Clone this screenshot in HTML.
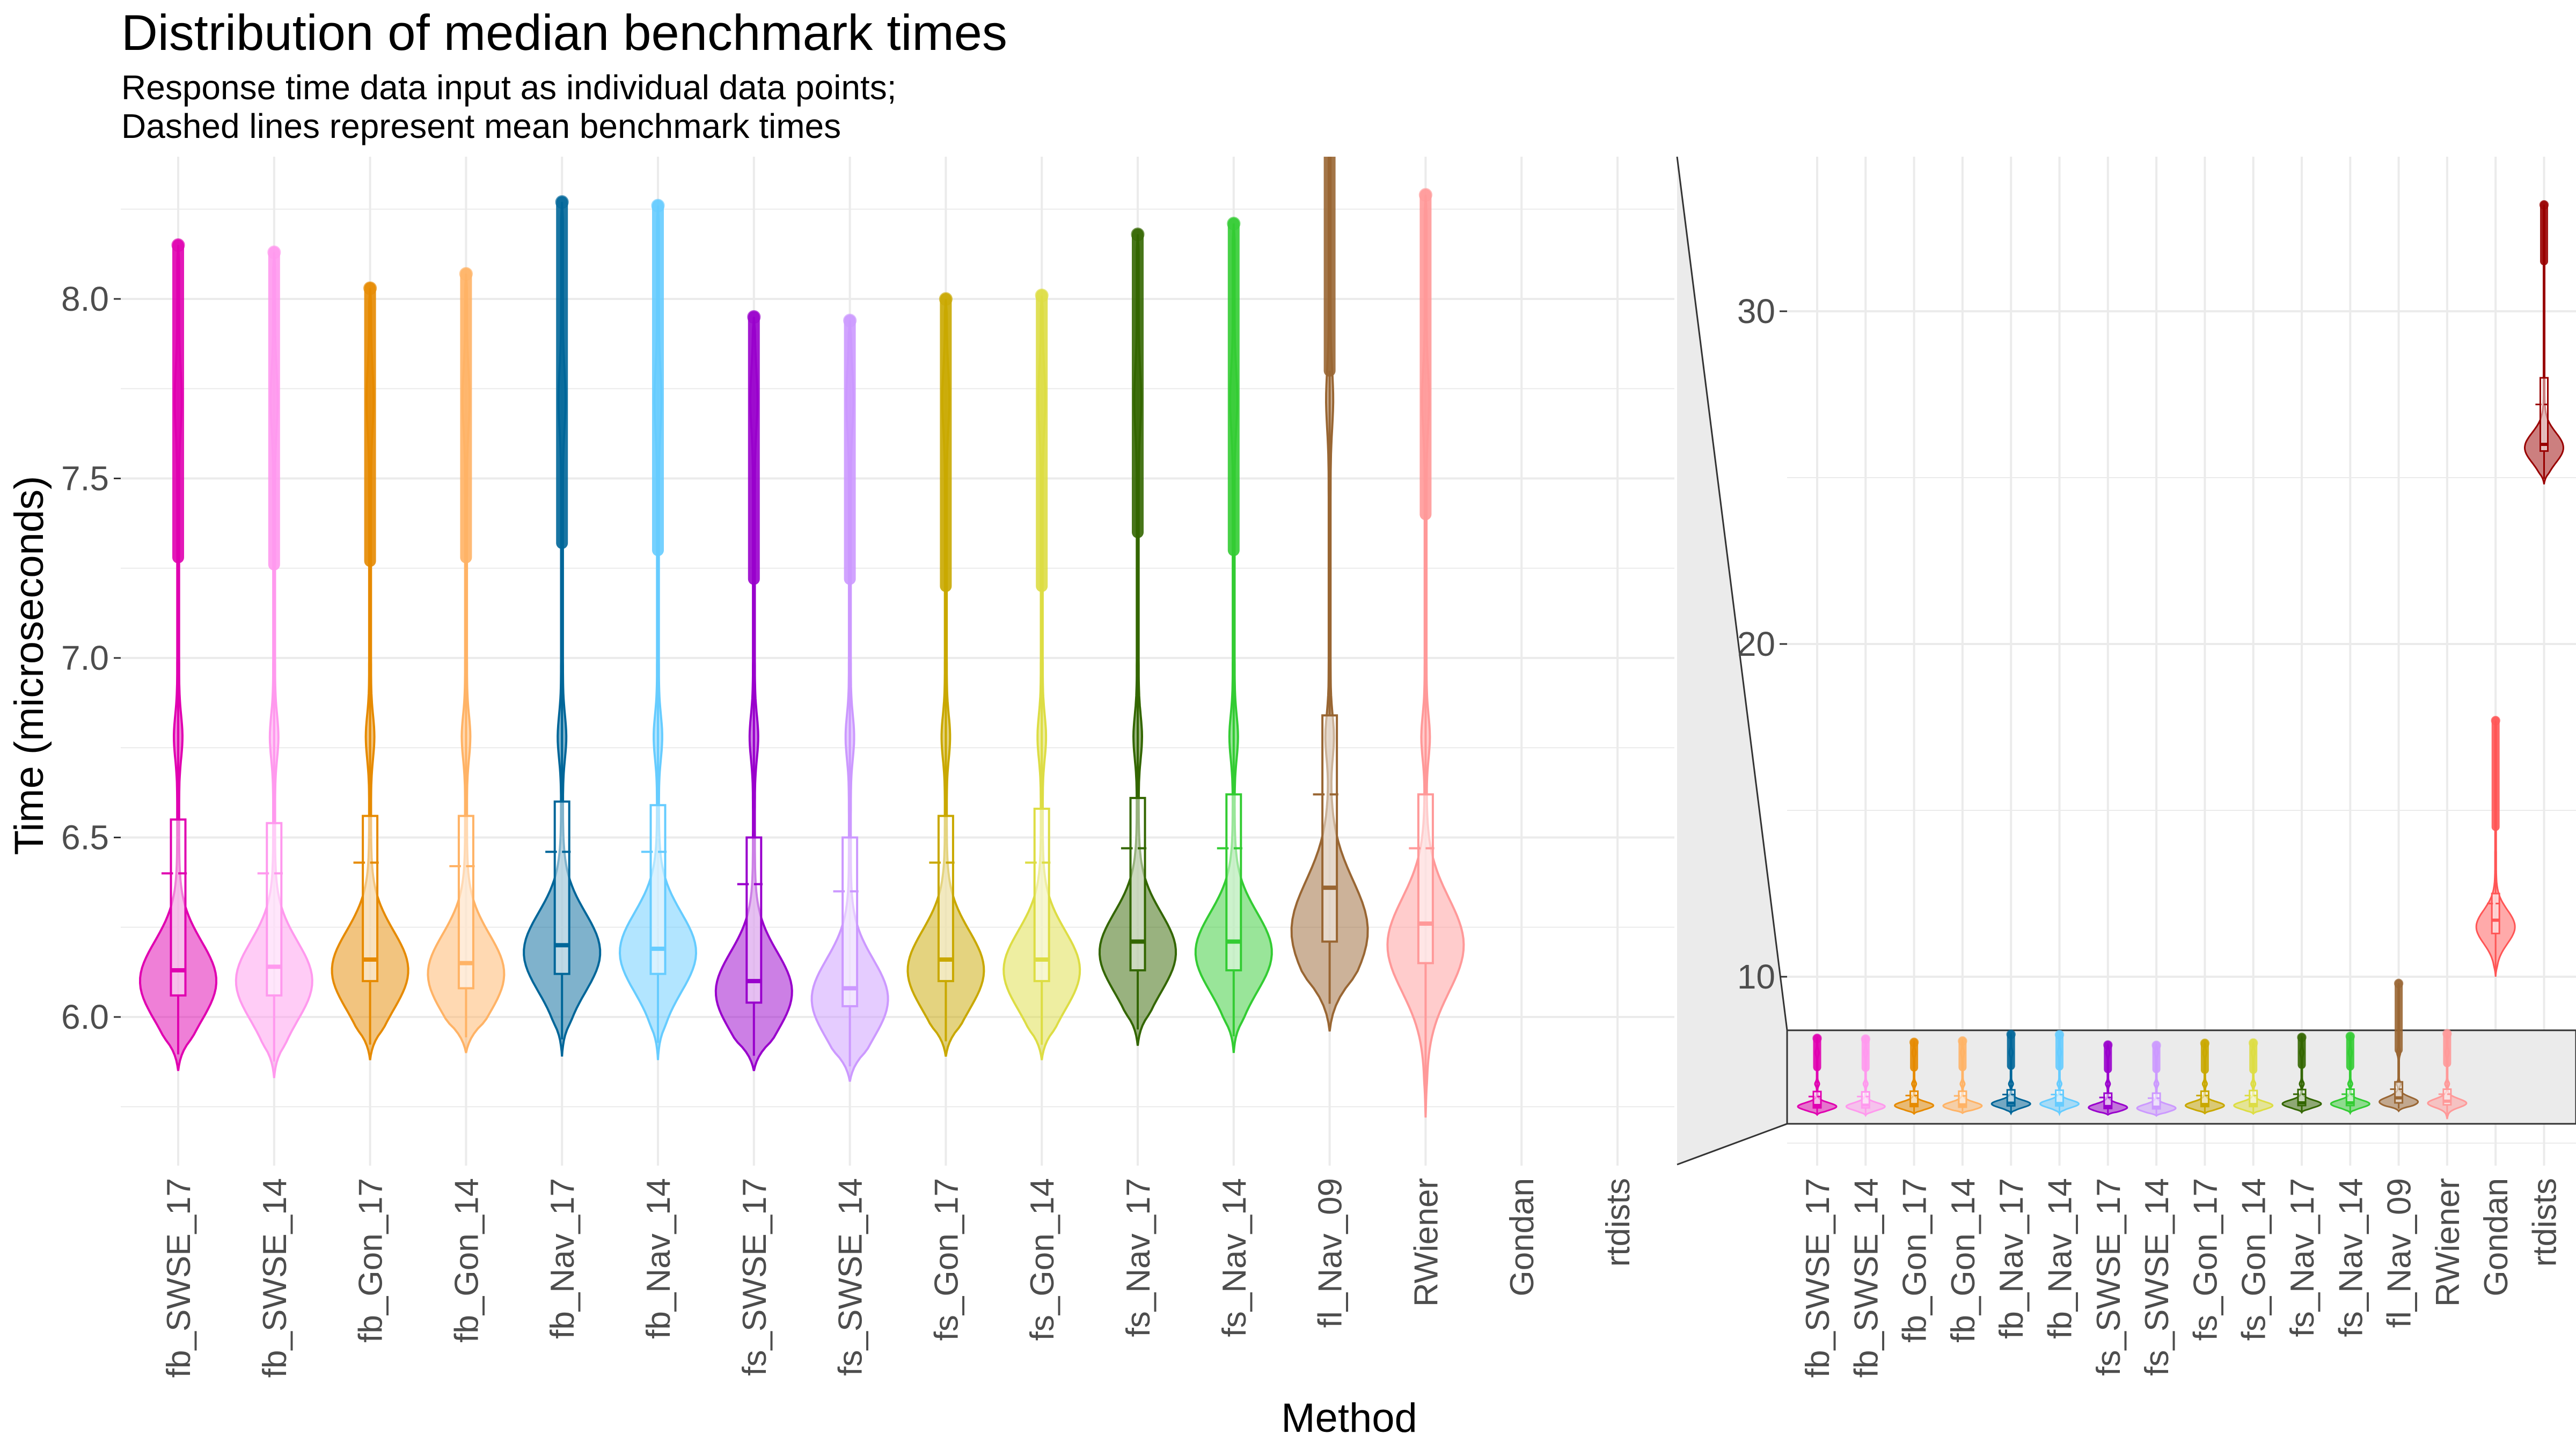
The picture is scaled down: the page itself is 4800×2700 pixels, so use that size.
<!DOCTYPE html>
<html><head><meta charset="utf-8">
<style>
html,body{margin:0;padding:0;background:#fff;}
svg{display:block;font-family:"Liberation Sans",sans-serif;}
</style></head>
<body>
<svg id="chart" width="4800" height="2700" viewBox="0 0 4800 2700" xmlns="http://www.w3.org/2000/svg">
<text x="226" y="93" font-size="94" fill="#000">Distribution of median benchmark times</text>
<text x="226" y="185" font-size="64" fill="#000">Response time data input as individual data points;</text>
<text x="226" y="257" font-size="64" fill="#000">Dashed lines represent mean benchmark times</text>
<text transform="translate(80,1240) rotate(-90)" text-anchor="middle" font-size="76" fill="#000">Time (microseconds)</text>
<text x="2514" y="2668" text-anchor="middle" font-size="76" fill="#000">Method</text>
<defs>
<clipPath id="clipL"><rect x="225" y="292" width="2895" height="1880"/></clipPath>
<clipPath id="clipR"><rect x="3330" y="292" width="1470" height="1880"/></clipPath>
</defs>
<g id="left"></g>
<g id="right"></g>
</svg>
<script>
const categories=["fb_SWSE_17","fb_SWSE_14","fb_Gon_17","fb_Gon_14","fb_Nav_17","fb_Nav_14","fs_SWSE_17","fs_SWSE_14","fs_Gon_17","fs_Gon_14","fs_Nav_17","fs_Nav_14","fl_Nav_09","RWiener","Gondan","rtdists"];
const colors=["#E000B0","#FF99EE","#E68A00","#FFB366","#006699","#66CCFF","#9900CC","#CC99FF","#C9A800","#DDDD44","#336600","#33CC33","#996633","#FF9999","#FF5555","#990000"];
const minVals=[5.85,5.83,5.88,5.90,5.89,5.88,5.85,5.82,5.89,5.88,5.92,5.90,5.96,5.72,10.0,24.8];
const q1Vals=[6.06,6.06,6.10,6.08,6.12,6.12,6.04,6.03,6.10,6.10,6.13,6.13,6.21,6.15,11.3,25.8];
const medianVals=[6.13,6.14,6.16,6.15,6.20,6.19,6.10,6.08,6.16,6.16,6.21,6.21,6.36,6.26,11.7,26.0];
const q3Vals=[6.55,6.54,6.56,6.56,6.60,6.59,6.50,6.50,6.56,6.58,6.61,6.62,6.84,6.62,12.5,28.0];
const meanVals=[6.40,6.40,6.43,6.42,6.46,6.46,6.37,6.35,6.43,6.43,6.47,6.47,6.62,6.47,12.2,27.2];
const outStartVals=[7.28,7.26,7.27,7.28,7.32,7.30,7.22,7.22,7.20,7.20,7.35,7.30,7.80,7.40,14.5,31.5];
const maxVals=[8.15,8.13,8.03,8.07,8.27,8.26,7.95,7.94,8.00,8.01,8.18,8.21,9.80,8.29,17.7,33.2];
const modeVals=[6.10,6.10,6.13,6.12,6.18,6.18,6.07,6.05,6.13,6.13,6.18,6.18,6.24,6.20,11.5,25.9];
const spreadVals=[0.11,0.11,0.11,0.11,0.11,0.11,0.11,0.11,0.11,0.11,0.11,0.11,0.14,0.13,0.5,0.45];
const leftTicks=[6.0,6.5,7.0,7.5,8.0];
const leftMinor=[5.75,6.25,6.75,7.25,7.75,8.25];
const rightTicks=[10,20,30];
const rightMinor=[5,15,25];

const NS="http://www.w3.org/2000/svg";
function mk(tag,attrs,parent){const e=document.createElementNS(NS,tag);for(const k in attrs)e.setAttribute(k,attrs[k]);parent.appendChild(e);return e;}
const L=document.getElementById('left'), R=document.getElementById('right');
const yL=v=>1895-(v-6)*669;
const xL=i=>332+i*178.8;
const yR=v=>1820-(v-10)*62;
const xR=i=>3386+i*90.3;

leftMinor.forEach(v=>{const l=mk('line',{x1:225,x2:3120,y1:yL(v),y2:yL(v),stroke:'#ebebeb','stroke-width':2},L);
});
leftTicks.forEach(v=>{const l=mk('line',{x1:225,x2:3120,y1:yL(v),y2:yL(v),stroke:'#ebebeb','stroke-width':4},L);

const t=mk('line',{x1:212,x2:225,y1:yL(v),y2:yL(v),stroke:'#333','stroke-width':3},L);

const tx=mk('text',{x:203,y:yL(v)+22,'text-anchor':'end','font-size':64,fill:'#4d4d4d'},L);tx.textContent=v.toFixed(1);
});
categories.forEach((c,i)=>{const l=mk('line',{x1:xL(i),x2:xL(i),y1:292,y2:2172,stroke:'#ebebeb','stroke-width':4},L);

const t=mk('text',{transform:`translate(${xL(i)+22},2195) rotate(-90)`,'text-anchor':'end','font-size':62,fill:'#4d4d4d'},L);t.textContent=c;
});

const bandTop=yR(8.39), bandBot=yR(5.58);
const conn=mk('polygon',{points:`3125,292 3330,${bandTop} 3330,${bandBot} 3125,2170`,fill:'#ebebeb',stroke:'none'},R);

mk('line',{x1:3125,y1:292,x2:3330,y2:bandTop,stroke:'#333','stroke-width':3},R);
mk('line',{x1:3125,y1:2170,x2:3330,y2:bandBot,stroke:'#333','stroke-width':3},R);

rightMinor.forEach(v=>{const l=mk('line',{x1:3330,x2:4800,y1:yR(v),y2:yR(v),stroke:'#ebebeb','stroke-width':2},R);
});
categories.forEach((c,i)=>{const l=mk('line',{x1:xR(i),x2:xR(i),y1:292,y2:2172,stroke:'#ebebeb','stroke-width':4},R);

const t=mk('text',{transform:`translate(${xR(i)+22},2195) rotate(-90)`,'text-anchor':'end','font-size':62,fill:'#4d4d4d'},R);t.textContent=c;
});
rightTicks.forEach(v=>{const l=mk('line',{x1:3330,x2:4800,y1:yR(v),y2:yR(v),stroke:'#ebebeb','stroke-width':4},R);

const t=mk('line',{x1:3316,x2:3330,y1:yR(v),y2:yR(v),stroke:'#333','stroke-width':3},R);

const tx=mk('text',{x:3308,y:yR(v)+22,'text-anchor':'end','font-size':64,fill:'#4d4d4d'},R);tx.textContent=String(v);
});

const band=mk('rect',{x:3330,y:bandTop,width:1470,height:bandBot-bandTop,fill:'#ebebeb',stroke:'#333','stroke-width':3},R);


function dens(i,v){
  const m=modeVals[i], s=spreadVals[i];
  let d=Math.exp(-0.5*((v-m)/s)**2);
  if(i<14){d+=0.09*Math.exp(-0.5*((v-6.78)/0.06)**2)+0.07*Math.exp(-0.5*((v-7.72)/0.08)**2)+0.025;}
  else {d+=0.03;}
  return d;
}
function drawViolin(i,g,x,y,W,sw,boxW,colW){
  const lo=minVals[i], hi=maxVals[i], N=160;
  let pts=[],mx=0;
  for(let k=0;k<=N;k++){const v=lo+(hi-lo)*k/N;let d=dens(i,v);const taper=Math.min(1,(v-lo)/(0.04*(hi-lo)+1e-9),(hi-v)/(0.02*(hi-lo)+1e-9));d*=Math.max(0,taper);pts.push([v,d]);mx=Math.max(mx,d);}
  const right=pts.map(p=>`${(x+p[1]/mx*W).toFixed(1)},${y(p[0]).toFixed(1)}`);
  const left=pts.slice().reverse().map(p=>`${(x-p[1]/mx*W).toFixed(1)},${y(p[0]).toFixed(1)}`);
  const col=colors[i];
  const vio=mk('polygon',{points:right.concat(left).join(' '),fill:col,'fill-opacity':0.5,stroke:col,'stroke-width':sw},g);
  
  const oc=mk('line',{x1:x,x2:x,y1:y(outStartVals[i]),y2:y(maxVals[i]),stroke:col,'stroke-width':colW,'stroke-opacity':0.9,'stroke-linecap':'round'},g);
  
  mk('circle',{cx:x,cy:y(maxVals[i]),r:colW*0.55,fill:col,'fill-opacity':0.5,stroke:col,'stroke-opacity':0.6},g);
  mk('line',{x1:x,x2:x,y1:y(minVals[i]+0.02*(maxVals[i]-minVals[i])),y2:y(q1Vals[i]),stroke:col,'stroke-width':sw},g);
  mk('line',{x1:x,x2:x,y1:y(q3Vals[i]),y2:y(outStartVals[i]),stroke:col,'stroke-width':sw},g);
  const box=mk('rect',{x:x-boxW/2,y:y(q3Vals[i]),width:boxW,height:y(q1Vals[i])-y(q3Vals[i]),fill:'#fff','fill-opacity':0.5,stroke:col,'stroke-width':sw},g);
  
  const md=mk('line',{x1:x-boxW/2,x2:x+boxW/2,y1:y(medianVals[i]),y2:y(medianVals[i]),stroke:col,'stroke-width':sw*2},g);
  
  const mn=mk('line',{x1:x-boxW*1.15,x2:x+boxW*0.6,y1:y(meanVals[i]),y2:y(meanVals[i]),stroke:col,'stroke-width':sw,'stroke-dasharray':`${boxW*0.8},${boxW*0.35}`},g);
  
}
const gL=mk('g',{'clip-path':'url(#clipL)'},L);
for(let i=0;i<14;i++){drawViolin(i,gL,xL(i),yL,71,4,27,22);}
const gR=mk('g',{'clip-path':'url(#clipR)'},R);
for(let i=0;i<16;i++){drawViolin(i,gR,xR(i),yR,36,3,14,15);}
</script>
</body></html>
